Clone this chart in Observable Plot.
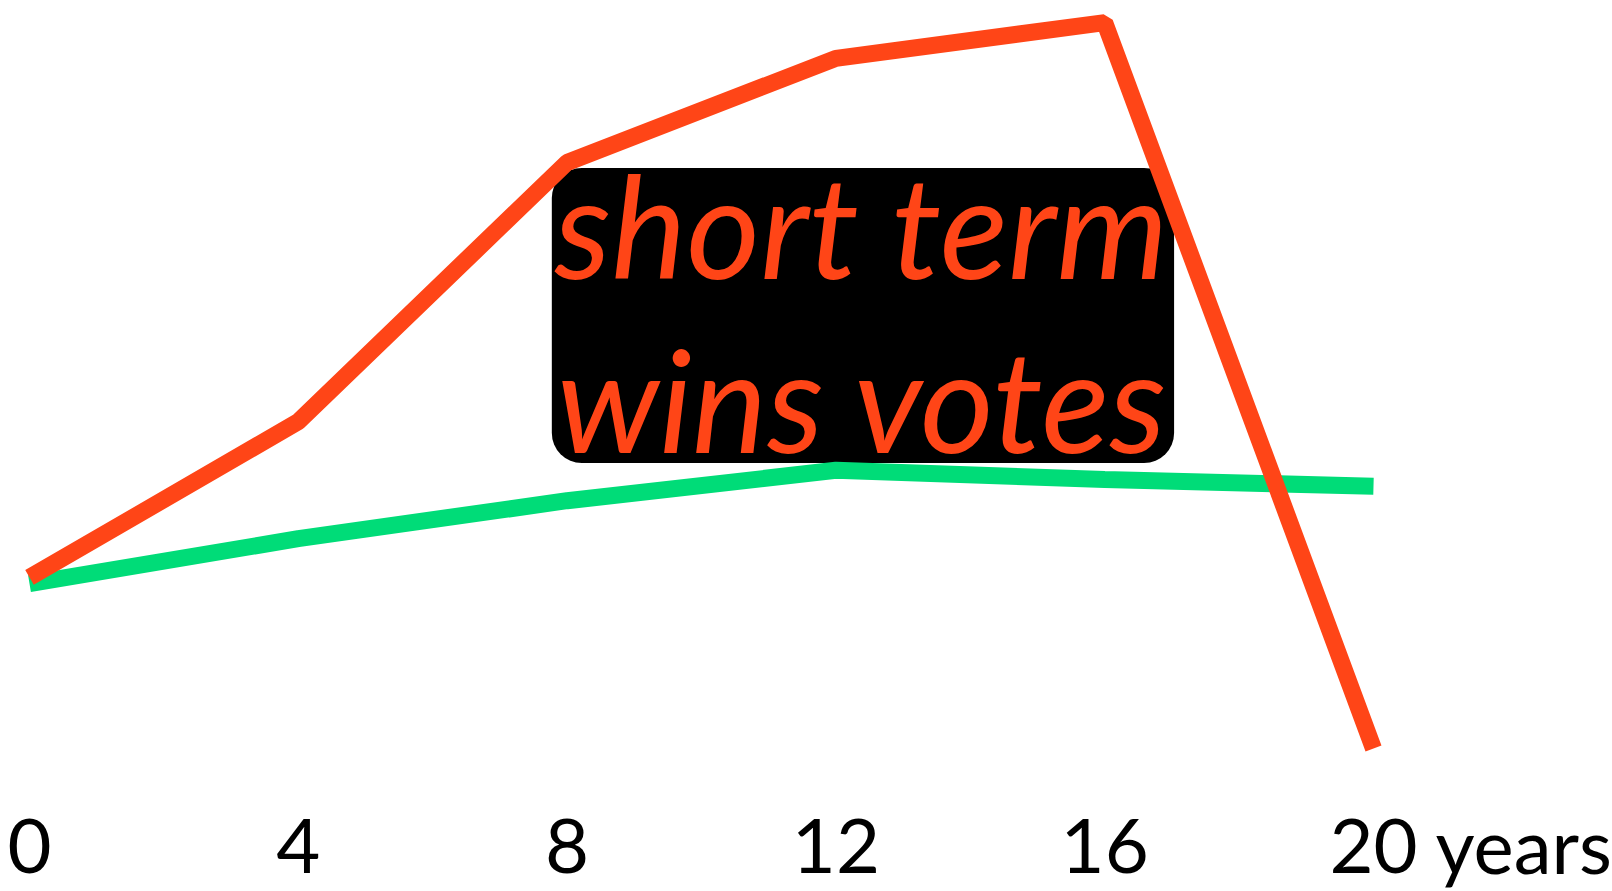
<!DOCTYPE html>
<html><head><meta charset="utf-8">
<script src="https://cdn.jsdelivr.net/npm/d3@7"></script>
<script src="https://cdn.jsdelivr.net/npm/@observablehq/plot@0.6"></script>
<style>html,body{margin:0;padding:0;background:#fff;} svg{display:block}</style>
</head><body><div id="chart"></div>
<script>
// ---- data ----
const years = [0, 4, 8, 12, 16, 20];
const shortTerm = [25.4, 45.9, 80.0, 93.7, 98.4, 2.9];   // orange
const longTerm  = [24.6, 30.5, 35.5, 39.5, 38.3, 37.4];  // green
const tickLabels = ["0", "4", "8", "12", "16", "20"];
const unitLabel = "years";
const noteLines = ["short term", "wins votes"];

const ORANGE = "#ff4517", GREEN = "#00dc78";
const rows = vals => years.map((t, i) => ({t, v: vals[i]}));
const noteBox = [{x1: 7.78, x2: 17.04, y1: 40.4, y2: 79.2}];

const chart = Plot.plot({
  width: 1612, height: 891,
  marginTop: 0, marginRight: 0, marginBottom: 75, marginLeft: 0,
  style: {fontFamily: "Lato", fontSize: "76px", color: "#000", background: "#fff", overflow: "visible"},
  x: {domain: [0, 20], range: [29, 1373], ticks: years, tickSize: 0, tickPadding: 3,
      tickFormat: d => tickLabels[years.indexOf(d)], label: null},
  y: {domain: [0, 100], range: [770, 10], axis: null},
  marks: [
    Plot.rect(noteBox, {x1: "x1", x2: "x2", y1: "y1", y2: "y2", fill: "#000", rx: 30}),
    Plot.text([noteLines.join("\n")], {x: () => 12.38, y: () => 41.8, lineAnchor: "bottom",
      lineHeight: 1.225, fontSize: 142, fontStyle: "italic", fontFamily: "Lato", fill: ORANGE, textAnchor: "middle"}),
    Plot.line(rows(longTerm), {x: "t", y: "v", stroke: GREEN, strokeWidth: 17, strokeLinecap: "butt", strokeLinejoin: "miter"}),
    Plot.line(rows(shortTerm), {x: "t", y: "v", stroke: ORANGE, strokeWidth: 17, strokeLinecap: "butt", strokeLinejoin: "miter"}),
    Plot.text([unitLabel], {x: () => 20, frameAnchor: "bottom", lineAnchor: "bottom", dy: 57, dx: 62,
      textAnchor: "start", fontSize: 76, fontFamily: "Lato", fill: "#000"})
  ]
});
document.getElementById("chart").appendChild(chart);
</script>
</body></html>
